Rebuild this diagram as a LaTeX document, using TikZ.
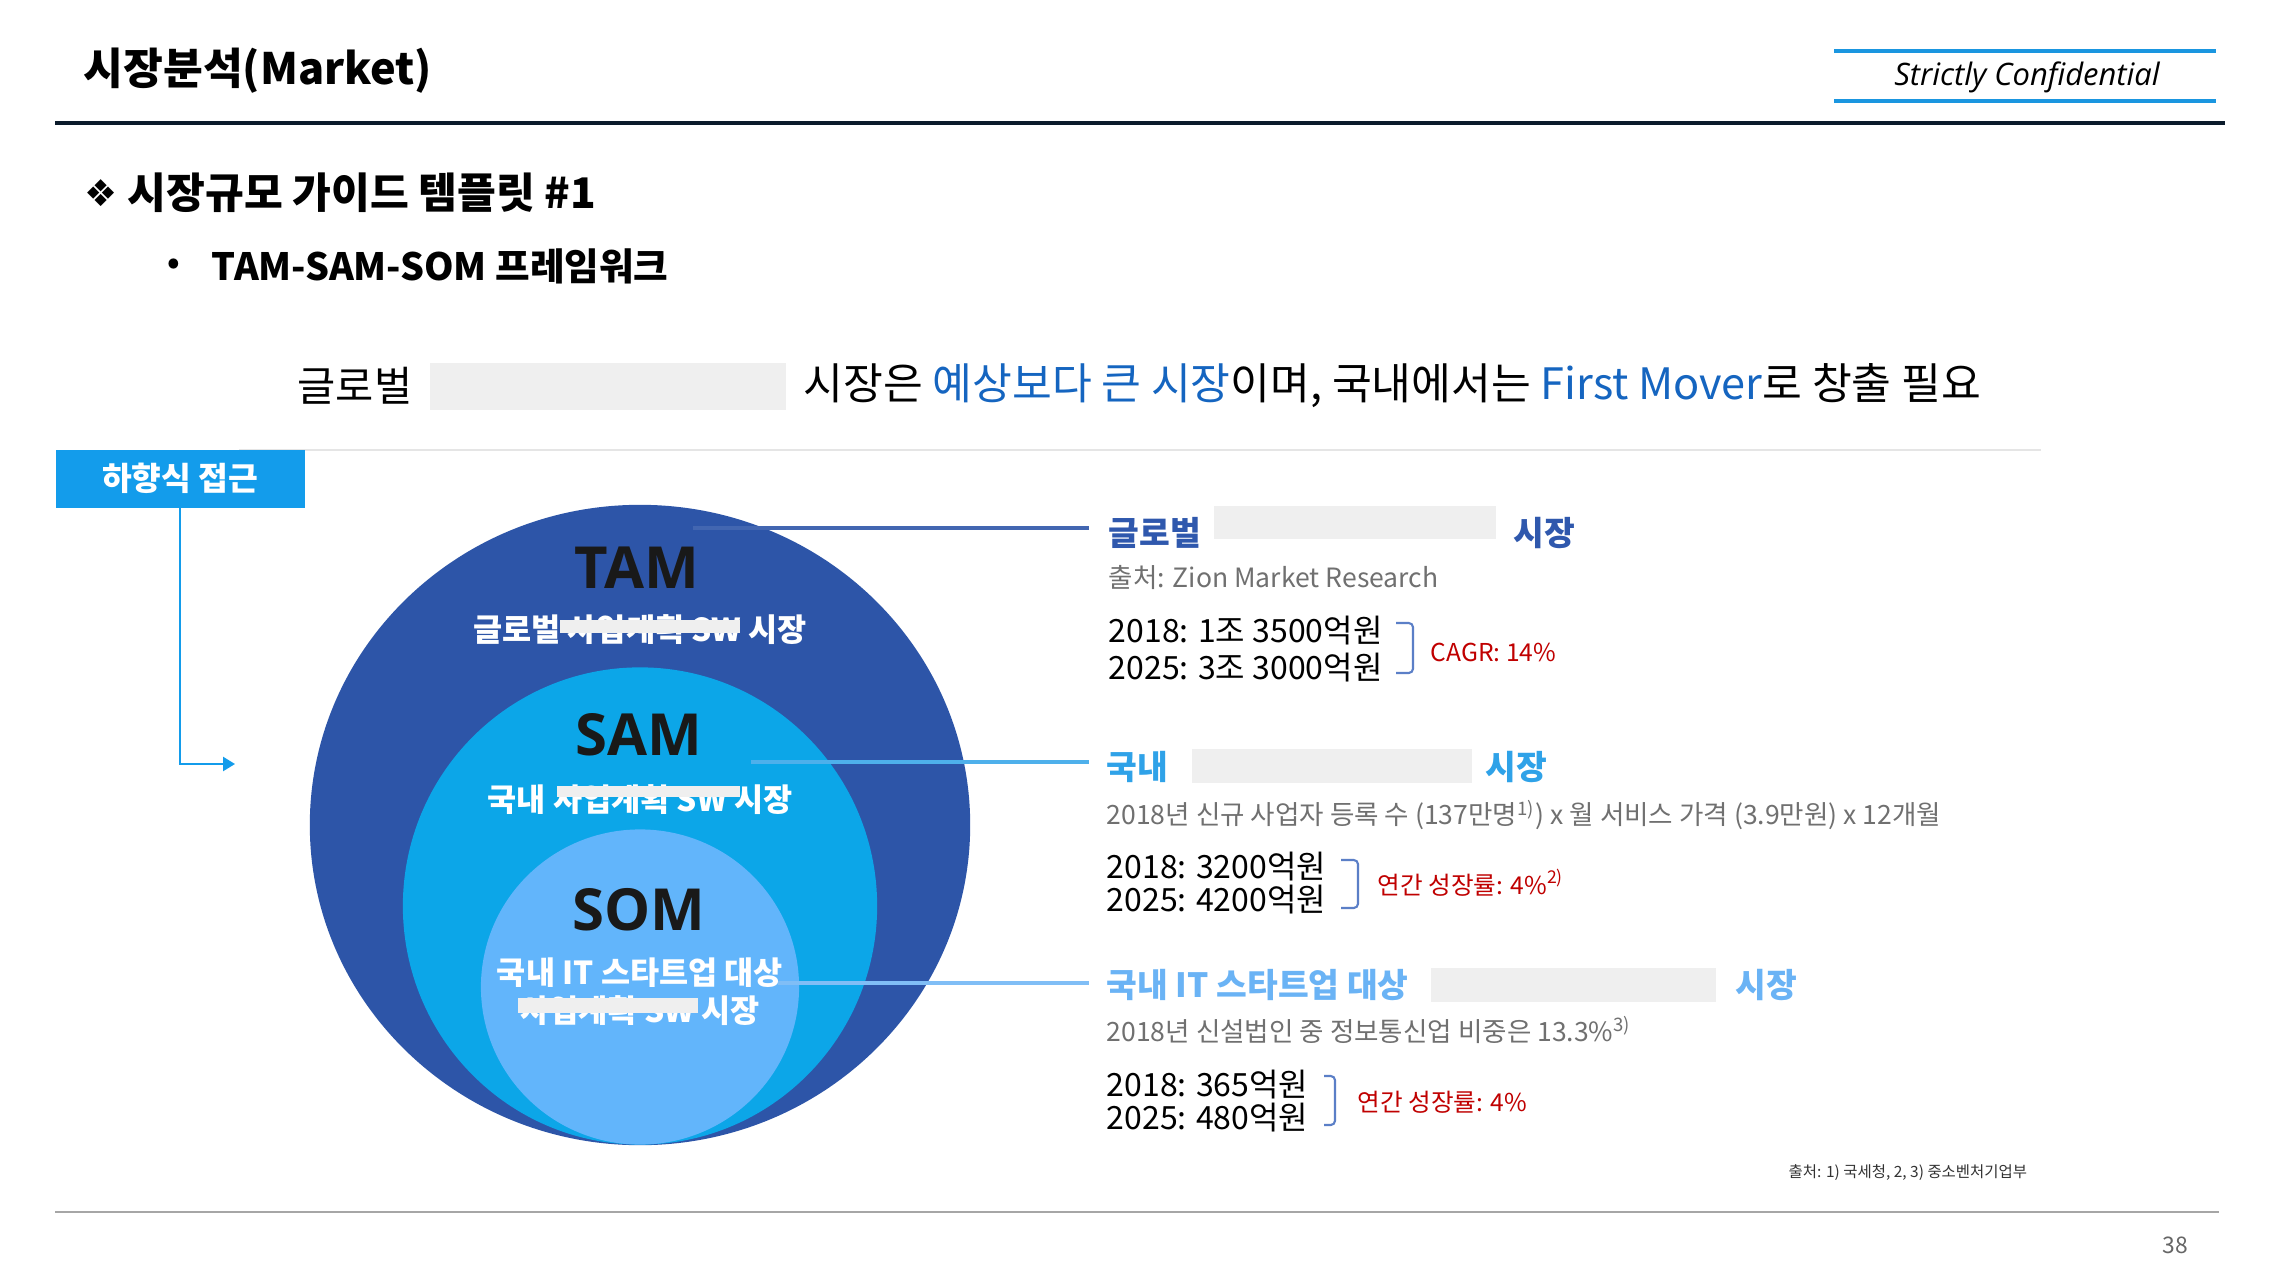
\documentclass[tikz,border=0pt]{standalone}
\usepackage{fontspec}
\setmainfont{Noto Sans CJK KR}
\newfontfamily\osfont{Open Sans}
\newfontfamily\djfont{DejaVu Sans}
\usetikzlibrary{shapes.geometric,arrows.meta}
\definecolor{navy}{HTML}{0B1B2B}
\definecolor{confblue}{HTML}{1A96E0}
\definecolor{boxblue}{HTML}{139CEB}
\definecolor{tamc}{HTML}{2D55A8}
\definecolor{samc}{HTML}{0CA6E8}
\definecolor{somc}{HTML}{62B5FB}
\definecolor{hlblue}{HTML}{1565C0}
\definecolor{h1c}{HTML}{2F58AD}
\definecolor{h2c}{HTML}{2FA2E8}
\definecolor{h3c}{HTML}{6AB3F5}
\definecolor{redact}{HTML}{EFEFEF}
\definecolor{srcgray}{HTML}{707070}
\definecolor{redc}{HTML}{C00000}
\definecolor{brk}{HTML}{5B7FC7}
\newcommand\fsz[1]{\fontsize{#1pt}{#1pt}\selectfont}
\tikzset{
  txt/.style={inner sep=0pt, anchor=west},
  ctxt/.style={inner sep=0pt, anchor=center},
  redbox/.style={fill=redact, draw=none},
  heading/.style={txt, font=\fsz{9.5}\bfseries},
  srcline/.style={txt, font=\fsz{7.55}, text=srcgray},
  valline/.style={txt, font=\fsz{9.1}, text=black},
  redlabel/.style={txt, font=\fsz{7}, text=redc},
  bracketline/.style={draw=brk, line width=0.6pt, rounded corners=1.2pt},
  ellabel/.style={ctxt, font=\osfont\bfseries\fsz{16.5}, text=black!90},
  elsub/.style={ctxt, font=\fsz{9}\bfseries, text=white},
  market/.style={ellipse, inner sep=0pt, draw=none}
}
\begin{document}
\begin{tikzpicture}[x=0.01cm, y=-0.01cm]
\useasboundingbox (0,0) rectangle (2270,1264);
\fill[white] (0,0) rectangle (2270,1264);

% header
\node[txt] (title) at (83,71) {\fsz{12.3}\bfseries 시장분석(Market)};
\draw[confblue, line width=1.1pt] (1834,51) -- (2216,51);
\draw[confblue, line width=1.1pt] (1834,101) -- (2216,101);
\node[ctxt] (conf) at (2027,77) {\osfont\itshape\fsz{8.8}Strictly Confidential};
\draw[navy, line width=1.4pt] (55,123) -- (2225,123);

\node[ctxt] (diam) at (101,193) {\djfont\fsz{10.5}❖};
\node[txt] (sub1) at (127,193) {\fsz{12}\bfseries 시장규모 가이드 템플릿 \#1};
\node[ctxt] (bul) at (174,266) {\fsz{9}\bfseries •};
\node[txt] (sub2) at (211,266) {\fsz{10.7}\bfseries TAM-SAM-SOM 프레임워크};

% headline
\node[txt] (hl1) at (297,386) {\fsz{11.8}글로벌};
\fill[redbox] (430,363) rectangle (786,410);
\node[txt] (hl2) at (803,386) {\fsz{12.3}시장은 \textcolor{hlblue}{예상보다 큰 시장}이며, 국내에서는 \textcolor{hlblue}{First Mover}로 창출 필요};
\draw[black!10, line width=0.8pt] (239,450) -- (2041,450);

% top-down box
\node[fill=boxblue, minimum width=2.49cm, minimum height=0.58cm, inner sep=0pt, anchor=north west, text=white, font=\fsz{9.2}\bfseries] (topdown) at (55,449) {하향식 접근};
\coordinate (arrtip) at (235,764);
\draw[boxblue, line width=0.6pt, -{Triangle[length=3.4pt,width=4pt]}] (topdown.south) |- (arrtip);

% ellipses
\node[market, fill=tamc, minimum width=6.6cm, minimum height=6.4cm] (tam) at (640,825) {};
\node[market, fill=samc, minimum width=4.74cm, minimum height=4.77cm] (sam) at (640,906) {};
\node[market, fill=somc, minimum width=3.18cm, minimum height=3.15cm] (som) at (640,987) {};

\node[ellabel] (tamt) at (637,568) {TAM};
\node[elsub] (tams) at (640,630) {글로벌 사업계획 SW 시장};
\fill[redbox] (560,620) rectangle (740,633);

\node[ellabel] (samt) at (639,735) {SAM};
\node[elsub] (sams) at (640,800) {국내 사업계획 SW 시장};
\fill[redbox] (557,786) rectangle (740,797);

\node[ellabel] (somt) at (639,910) {SOM};
\node[elsub] (soms1) at (640,973) {국내 IT 스타트업 대상};
\node[elsub] (soms2) at (640,1011) {사업계획 SW 시장};
\fill[redbox] (518,998) rectangle (698,1013);

% connectors
\coordinate (c1s) at (693,528);
\coordinate (c1e) at (1089,528);
\coordinate (c2s) at (751,762);
\coordinate (c2e) at (1089,762);
\coordinate (c3s) at (778,983);
\coordinate (c3e) at (1089,983);
\draw[color=tamc!90!white, line width=1.1pt] (c1s) -- (c1e);
\draw[color=h2c!85!white, line width=1.1pt] (c2s) -- (c2e);
\draw[color=h3c!85!white, line width=1.1pt] (c3s) -- (c3e);

% TAM block
\node[heading, text=h1c] (h1a) at (1108,533) {글로벌};
\fill[redbox] (1214,506) rectangle (1496,539);
\node[heading, text=h1c, anchor=east] (h1b) at (1576,533) {시장};
\node[srcline] (s1) at (1108,578) {출처: Zion Market Research};
\node[valline] (v1a) at (1108,631) {2018: 1조 3500억원};
\node[valline] (v1b) at (1108,668) {2025: 3조 3000억원};
\draw[bracketline] (1396,623) -| (1413,673) -- (1396,673);
\node[redlabel] (r1) at (1430,652) {CAGR: 14\%};

% SAM block
\node[heading, text=h2c] (h2a) at (1106,767) {국내};
\fill[redbox] (1192,749) rectangle (1472,783);
\node[heading, text=h2c, anchor=east] (h2b) at (1548,767) {시장};
\node[srcline] (s2) at (1106,815) {2018년 신규 사업자 등록 수 (137만명\textsuperscript{1)}) x 월 서비스 가격 (3.9만원) x 12개월};
\node[valline] (v2a) at (1106,867) {2018: 3200억원};
\node[valline] (v2b) at (1106,900) {2025: 4200억원};
\draw[bracketline] (1341,860) -| (1358,908) -- (1341,908);
\node[redlabel] (r2) at (1377,883) {연간 성장률: 4\%\textsuperscript{2)}};

% SOM block
\node[heading, text=h3c] (h3a) at (1106,985) {국내 IT 스타트업 대상};
\fill[redbox] (1431,968) rectangle (1716,1002);
\node[heading, text=h3c, anchor=east] (h3b) at (1798,985) {시장};
\node[srcline] (s3) at (1106,1030) {2018년 신설법인 중 정보통신업 비중은 13.3\%\textsuperscript{3)}};
\node[valline] (v3a) at (1106,1085) {2018: 365억원};
\node[valline] (v3b) at (1106,1118) {2025: 480억원};
\draw[bracketline] (1324,1076) -| (1335,1125) -- (1324,1125);
\node[redlabel] (r3) at (1357,1102) {연간 성장률: 4\%};

% footer
\node[txt, font=\fsz{4.4}, text=black!80] (foot) at (1788,1173) {출처: 1) 국세청, 2, 3) 중소벤처기업부};
\draw[black!35, line width=0.8pt] (55,1212) -- (2219,1212);
\node[ctxt, font=\fsz{6.5}, text=black!60] (pg) at (2175,1245) {38};
\end{tikzpicture}
\end{document}
